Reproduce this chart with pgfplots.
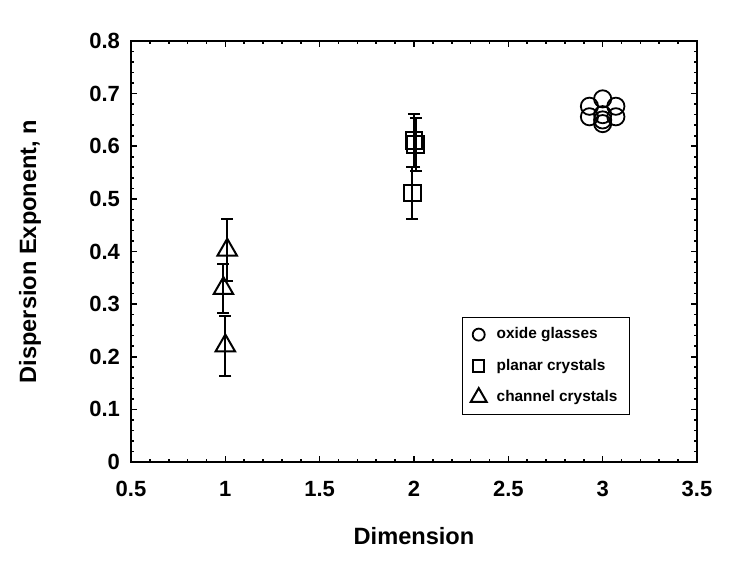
\documentclass[border=0pt]{standalone}
\usepackage{pgfplots}
\pgfplotsset{compat=1.18}
\usepackage{fontspec}
\setmainfont{Liberation Sans}
\begin{document}
\begin{tikzpicture}
\useasboundingbox (-65.5pt,-57pt) rectangle (301.5pt,231pt);
\begin{axis}[
  at={(0,0)}, anchor=south west,
  scale only axis, width=283pt, height=210.5pt,
  xmin=0.5, xmax=3.5, ymin=0, ymax=0.8,
  xtick={0.5,1,...,3.5}, ytick={0,0.1,...,0.8},
  minor x tick num=4, minor y tick num=4,
  tick pos=both, tick align=inside,
  major tick length=2.8pt, minor tick length=1.6pt,
  axis line style={line width=1pt},
  every tick/.style={line width=0.8pt, black},
  tick label style={font=\bfseries\fontsize{11}{12}\selectfont},
  /pgf/number format/assume math mode=true,
  xticklabel style={yshift=-6pt},
  yticklabel style={xshift=-2pt},
  xlabel={\bfseries Dimension},
  ylabel={\bfseries Dispersion Exponent, n},
  label style={font=\bfseries\fontsize{11.8}{13}\selectfont},
  xlabel style={at={(axis description cs:0.5,0)}, anchor=center, yshift=-37pt},
  ylabel style={at={(axis description cs:-0.1784,0.5)}, anchor=center},
  legend style={at={(0.8816,0.1116)}, anchor=south east, draw=black, line width=0.6pt,
    font=\bfseries\fontsize{7.7}{9}\selectfont, inner xsep=4pt, inner ysep=3pt,
    row sep=4.6pt, column sep=3pt, cells={anchor=west}},
  legend cell align=left,
]
\addplot[only marks, mark=o, mark size=4.3pt, line width=0.9pt, black,
  legend image post style={mark size=3pt}]
  coordinates {(3.0,0.69) (2.93,0.676) (3.07,0.676) (2.93,0.656) (3.07,0.656) (3.0,0.66) (3.0,0.65) (3.0,0.643)};
\addlegendentry{oxide glasses}
\addplot[only marks, mark=square, mark size=4.2pt, line width=1pt, black,
  legend image post style={mark size=2.8pt},
  error bars/.cd, y dir=both, y explicit,
  error bar style={line width=1pt}, error mark options={rotate=90, mark size=3pt, line width=1pt}]
  coordinates {(1.99,0.511) +- (0,0.05) (2.0,0.611) +- (0,0.05) (2.01,0.603) +- (0,0.05)};
\addlegendentry{planar crystals}
\addplot[only marks, mark=triangle, mark size=5.6pt, line width=1pt, black,
  legend image post style={mark size=4.6pt},
  error bars/.cd, y dir=both, y explicit,
  error bar style={line width=1pt}, error mark options={rotate=90, mark size=3pt, line width=1pt}]
  coordinates {(1.01,0.403) +- (0,0.059) (0.99,0.33) +- (0,0.047) (1.0,0.221) +- (0,0.057)};
\addlegendentry{channel crystals}
\end{axis}
\end{tikzpicture}
\end{document}
